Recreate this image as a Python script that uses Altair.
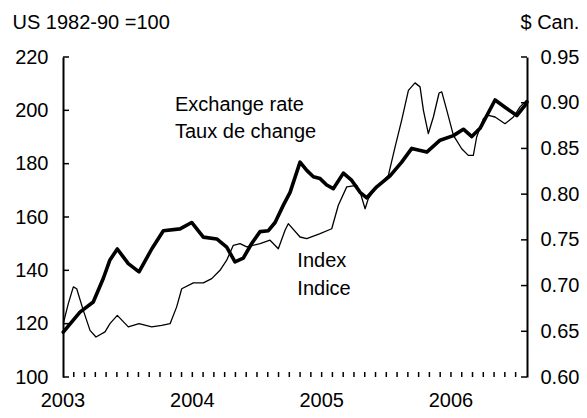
import altair as alt
import pandas as pd

FONT = "Liberation Sans"

# Index (left axis, US 1982-90 = 100), thin line
index_years = [2003.002, 2003.041, 2003.080, 2003.106, 2003.157, 2003.209, 2003.255, 2003.325,
               2003.363, 2003.420, 2003.505, 2003.588, 2003.686, 2003.763, 2003.828, 2003.879,
               2003.918, 2004.008, 2004.085, 2004.150, 2004.214, 2004.266, 2004.317, 2004.369,
               2004.421, 2004.524, 2004.601, 2004.665, 2004.717, 2004.742, 2004.833, 2004.885,
               2004.988, 2005.078, 2005.129, 2005.194, 2005.271, 2005.297, 2005.336, 2005.361,
               2005.426, 2005.516, 2005.568, 2005.619, 2005.671, 2005.722, 2005.761, 2005.787,
               2005.825, 2005.864, 2005.908, 2005.929, 2005.968, 2006.019, 2006.083, 2006.134,
               2006.173, 2006.199, 2006.251, 2006.290, 2006.341, 2006.418, 2006.483, 2006.534,
               2006.586]
index_values = [120.0, 127.5, 133.8, 133.1, 125.0, 117.5, 115.0, 116.9,
                120.0, 123.1, 118.8, 120.0, 118.8, 119.4, 120.0, 126.3,
                133.1, 135.3, 135.3, 136.9, 140.0, 143.8, 149.4, 150.0,
                148.8, 150.0, 151.3, 148.1, 155.0, 157.5, 152.5, 151.9,
                153.8, 155.6, 164.4, 171.3, 171.9, 169.4, 163.1, 166.9,
                171.3, 175.6, 186.3, 196.3, 207.5, 210.3, 208.8, 200.0,
                191.3, 197.5, 206.5, 206.9, 200.0, 190.6, 185.6, 183.1,
                183.1, 190.0, 196.9, 198.1, 197.5, 195.0, 197.5, 201.3,
                203.8]

# Exchange rate (right axis, $ Can.), thick line
rate_years = [2003.002, 2003.131, 2003.234, 2003.312, 2003.363, 2003.420, 2003.505, 2003.588,
              2003.686, 2003.776, 2003.905, 2003.995, 2004.085, 2004.189, 2004.266, 2004.330,
              2004.394, 2004.459, 2004.524, 2004.588, 2004.640, 2004.704, 2004.756, 2004.833,
              2004.885, 2004.936, 2004.988, 2005.039, 2005.090, 2005.168, 2005.233, 2005.297,
              2005.349, 2005.426, 2005.529, 2005.619, 2005.697, 2005.813, 2005.916, 2006.019,
              2006.096, 2006.161, 2006.225, 2006.341, 2006.418, 2006.509, 2006.573, 2006.588]
rate_values = [0.649, 0.671, 0.682, 0.708, 0.728, 0.740, 0.724, 0.715,
               0.740, 0.760, 0.762, 0.769, 0.753, 0.751, 0.742, 0.726,
               0.730, 0.746, 0.759, 0.760, 0.769, 0.788, 0.802, 0.835,
               0.826, 0.819, 0.817, 0.810, 0.806, 0.823, 0.815, 0.802,
               0.796, 0.808, 0.820, 0.835, 0.850, 0.846, 0.859, 0.864,
               0.871, 0.863, 0.872, 0.903, 0.895, 0.886, 0.897, 0.901]

year_labels = [2003, 2004, 2005, 2006]
left_ticks = [100, 120, 140, 160, 180, 200, 220]
right_ticks = [0.60, 0.65, 0.70, 0.75, 0.80, 0.85, 0.90, 0.95]
month_ticks = [2003 + k / 12 for k in range(1, 43)]

ann_text = ["Exchange rate", "Taux de change", "Index", "Indice"]
ann_year = [2003.866, 2003.866, 2004.812, 2004.812]
ann_value = [199.6, 189.5, 141.1, 130.6]

df_index = pd.DataFrame({"year": index_years, "index": index_values})
df_rate = pd.DataFrame({"year": rate_years, "rate": rate_values})
df_left = pd.DataFrame({"v": left_ticks})
df_right = pd.DataFrame({"v": right_ticks})
df_month = pd.DataFrame({"m": month_ticks})
df_years = pd.DataFrame({"y": year_labels, "t": [str(y) for y in year_labels]})
df_ann = pd.DataFrame({"year": ann_year, "v": ann_value, "label": ann_text})

x_scale = alt.Scale(domain=[2003, 2006.588], nice=False, zero=False)
left_scale = alt.Scale(domain=[100, 220], nice=False, zero=False)
right_scale = alt.Scale(domain=[0.60, 0.95], nice=False, zero=False)

x_axis = alt.Axis(values=year_labels, labels=False, title=None, tickSize=0,
                  domainWidth=2, domainColor="black", grid=False)

thin = alt.Chart(df_index).mark_line(color="black", strokeWidth=1.3, strokeJoin="round").encode(
    x=alt.X("year:Q", scale=x_scale, axis=x_axis),
    y=alt.Y("index:Q", scale=left_scale,
            axis=alt.Axis(orient="left", values=left_ticks, title="US 1982-90 =100",
                          titleAngle=0, titleAlign="left", titleBaseline="alphabetic",
                          titleX=-51, titleY=-29, titleFontSize=20, titleFont=FONT,
                          titleFontWeight="normal", titleColor="black",
                          tickSize=0, domainWidth=2, domainColor="black",
                          labelFontSize=20, labelFont=FONT, labelColor="black",
                          labelPadding=15, grid=False)),
)

thick = alt.Chart(df_rate).mark_line(color="black", strokeWidth=3.6, strokeJoin="round",
                                     strokeCap="round").encode(
    x=alt.X("year:Q", scale=x_scale, axis=None),
    y=alt.Y("rate:Q", scale=right_scale,
            axis=alt.Axis(orient="right", values=right_ticks, format=".2f", title="$ Can.",
                          titleAngle=0, titleAlign="left", titleBaseline="alphabetic",
                          titleX=-7, titleY=-29, titleFontSize=20, titleFont=FONT,
                          titleFontWeight="normal", titleColor="black",
                          tickSize=0, domainWidth=2, domainColor="black",
                          labelFontSize=20, labelFont=FONT, labelColor="black",
                          labelPadding=13, grid=False)),
)

left_tk = alt.Chart(df_left).mark_rule(color="black", strokeWidth=1.5).encode(
    y=alt.Y("v:Q", scale=left_scale, axis=None),
    x=alt.value(0), x2=alt.value(6),
)
right_tk = alt.Chart(df_right).mark_rule(color="black", strokeWidth=1.5).encode(
    y=alt.Y("v:Q", scale=right_scale, axis=None),
    x=alt.value(458), x2=alt.value(464),
)
bottom_tk = alt.Chart(df_month).mark_rule(color="black", strokeWidth=1.5).encode(
    x=alt.X("m:Q", scale=x_scale, axis=None),
    y=alt.value(320), y2=alt.value(315),
)

year_txt = alt.Chart(df_years).mark_text(align="center", baseline="alphabetic", fontSize=20,
                                         font=FONT, color="black").encode(
    x=alt.X("y:Q", scale=x_scale, axis=None),
    y=alt.value(350),
    text="t:N",
)

ann = alt.Chart(df_ann).mark_text(align="left", baseline="alphabetic", fontSize=20,
                                  font=FONT, color="black").encode(
    x=alt.X("year:Q", scale=x_scale, axis=None),
    y=alt.Y("v:Q", scale=left_scale, axis=None),
    text="label:N",
)

chart = alt.layer(thin, thick, left_tk, right_tk, bottom_tk, year_txt, ann).resolve_scale(
    y="independent"
).properties(
    width=464, height=320,
    autosize=alt.AutoSizeParams(type="none"),
    padding={"left": 55, "top": 49, "right": 52, "bottom": 33},
    background="white",
).configure_view(stroke=None)

chart.save("out.html", embed_options={"renderer": "svg", "actions": False})
